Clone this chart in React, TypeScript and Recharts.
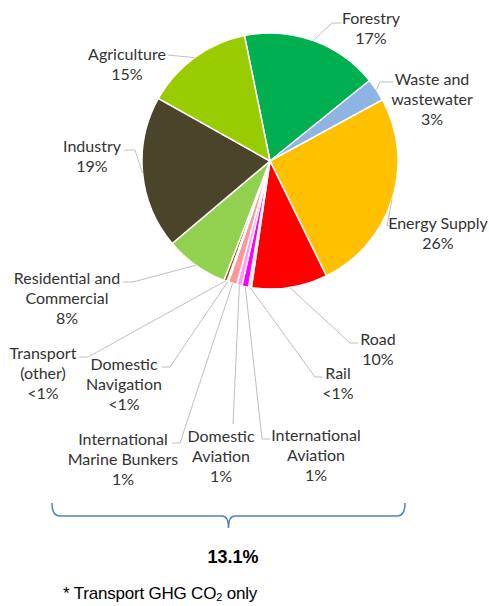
import React from "react";
import { PieChart, Pie, Cell } from "recharts";

const categories = [
  "Forestry",
  "Waste and wastewater",
  "Energy Supply",
  "Road",
  "Rail",
  "International Aviation",
  "Domestic Aviation",
  "International Marine Bunkers",
  "Domestic Navigation",
  "Transport (other)",
  "Residential and Commercial",
  "Industry",
  "Agriculture",
];

const shares = [17.4, 2.9, 25.7, 9.6, 0.35, 0.85, 0.65, 1.1, 0.2, 0.4, 8.0, 19.3, 13.7];

const percentLabels = ["17%", "3%", "26%", "10%", "<1%", "1%", "1%", "1%", "<1%", "<1%", "8%", "19%", "15%"];

const labelLines = [
  ["Forestry"],
  ["Waste and", "wastewater"],
  ["Energy Supply"],
  ["Road"],
  ["Rail"],
  ["International", "Aviation"],
  ["Domestic", "Aviation"],
  ["International", "Marine Bunkers"],
  ["Domestic", "Navigation"],
  ["Transport", "(other)"],
  ["Residential and", "Commercial"],
  ["Industry"],
  ["Agriculture"],
];

const colors = [
  "#00B050",
  "#8DB4E2",
  "#FFC000",
  "#FF0000",
  "#FFD5B0",
  "#FF00FF",
  "#FF99FF",
  "#FF9999",
  "#FFC4D0",
  "#994C00",
  "#92D050",
  "#4A452A",
  "#99CC00",
];

// layout of label boxes: elbow point, end point, text center x, first line center y
const labelLayout = [
  { elbow: [332, 23], end: [341, 23], tx: 371, ty: 17 },
  { elbow: [380, 82], end: [393, 82], tx: 432, ty: 78 },
  { elbow: [387, 226], end: [390, 226], tx: 438, ty: 222 },
  { elbow: [350, 343], end: [358, 343], tx: 378, ty: 338 },
  { elbow: [315, 377], end: [323, 377], tx: 338, ty: 372 },
  { elbow: [262, 439], end: [270, 439], tx: 316, ty: 434 },
  { elbow: [233, 424], end: [233, 424], tx: 221, ty: 435 },
  { elbow: [180, 443], end: [172, 443], tx: 123, ty: 438 },
  { elbow: [170, 367], end: [162, 367], tx: 124, ty: 363 },
  { elbow: [88, 357], end: [79, 357], tx: 43, ty: 352 },
  { elbow: [133, 282], end: [123, 282], tx: 67, ty: 277 },
  { elbow: [135, 150], end: [124, 150], tx: 92, ty: 145 },
  { elbow: [168, 55], end: [168, 55], tx: 127, ty: 53 },
];

const totalLabel = "13.1%";

const data = categories.map((name, i) => ({ name, value: shares[i] }));

const RAD = Math.PI / 180;
const FONT = "Lato, Carlito, Calibri, sans-serif";

const renderLabel = (props: any) => {
  const { cx, cy, midAngle, outerRadius, index } = props;
  const sx = cx + outerRadius * Math.cos(-midAngle * RAD);
  const sy = cy + outerRadius * Math.sin(-midAngle * RAD);
  const L = labelLayout[index];
  const lines = [...labelLines[index], percentLabels[index]];
  return (
    <g key={`lbl-${index}`}>
      <polyline
        points={`${sx},${sy} ${L.elbow[0]},${L.elbow[1]} ${L.end[0]},${L.end[1]}`}
        fill="none"
        stroke="#BFBFBF"
        strokeWidth={1}
      />
      {lines.map((t, j) => (
        <text
          key={j}
          x={L.tx}
          y={L.ty + j * 20}
          textAnchor="middle"
          dominantBaseline="central"
          fontFamily={FONT}
          fontSize={16}
          fill="#333333"
        >
          {t}
        </text>
      ))}
    </g>
  );
};

export default function App() {
  return (
    <div style={{ position: "absolute", left: 0, top: 0, width: 489, height: 606, background: "#fff" }}>
      <PieChart width={489} height={606}>
        <Pie
          data={data}
          dataKey="value"
          nameKey="name"
          cx={265}
          cy={156}
          outerRadius={128}
          startAngle={101.5}
          endAngle={-258.5}
          stroke="#FFFFFF"
          strokeWidth={1.5}
          isAnimationActive={false}
          labelLine={false}
          label={renderLabel}
        >
          {data.map((d, i) => (
            <Cell key={d.name} fill={colors[i]} />
          ))}
        </Pie>
      </PieChart>
      <svg width={489} height={606} style={{ position: "absolute", left: 0, top: 0, pointerEvents: "none" }}>
        <path
          d="M52,503 Q52,516 60,516 L222,516 Q228.5,516 228.5,528 Q228.5,516 235,516 L397,516 Q405,516 405,503"
          fill="none"
          stroke="#4F81BD"
          strokeWidth={1.5}
        />
        <text
          x={233}
          y={557}
          textAnchor="middle"
          dominantBaseline="central"
          fontFamily="Liberation Sans, Arial, sans-serif"
          fontWeight="bold"
          fontSize={18}
          fill="#000"
        >
          {totalLabel}
        </text>
        <text
          x={63}
          y={593}
          dominantBaseline="central"
          fontFamily="Liberation Sans, Arial, sans-serif"
          fontSize={17}
          letterSpacing={-0.2}
          fill="#000"
        >
          <tspan>* Transport GHG CO</tspan>
          <tspan fontSize={11} dy={4}>2</tspan>
          <tspan dy={-4}> only</tspan>
        </text>
      </svg>
    </div>
  );
}
